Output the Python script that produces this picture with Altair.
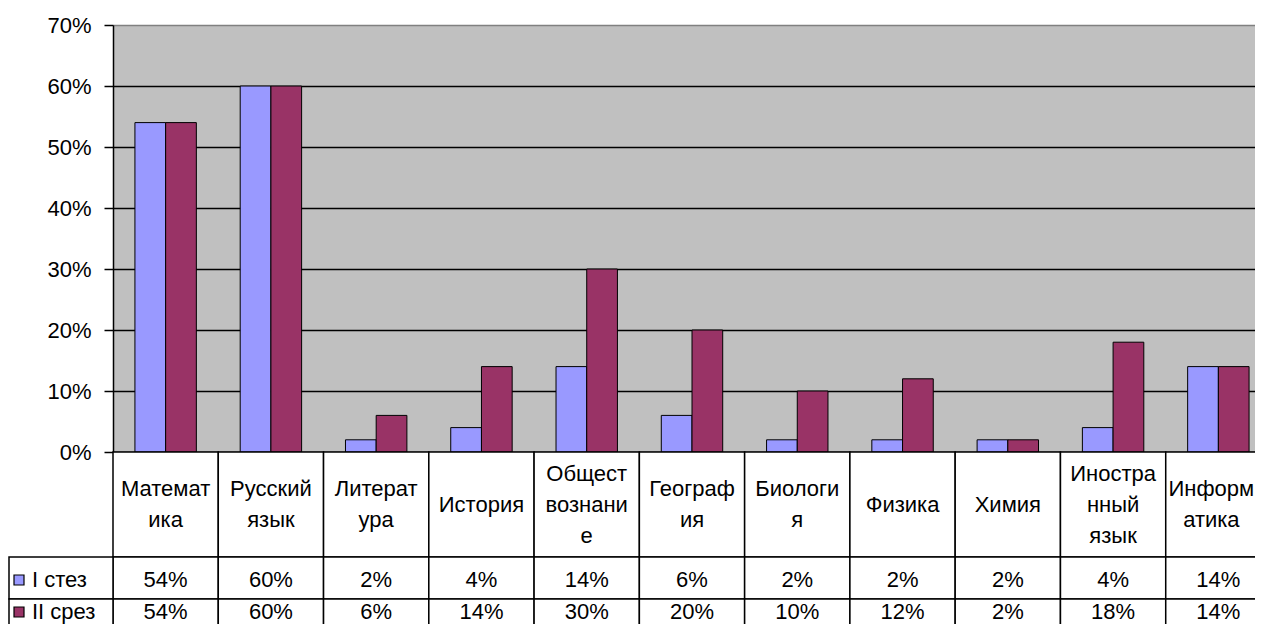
import altair as alt
import pandas as pd

categories = ["Математика", "Русский язык", "Литература", "История", "Обществознание",
              "География", "Биология", "Физика", "Химия", "Иностранный язык", "Информатика"]
labels = ["Математ\nика", "Русский\nязык", "Литерат\nура", "История", "Общест\nвознани\nе",
          "Географ\nия", "Биологи\nя", "Физика", "Химия", "Иностра\nнный\nязык", "Информ\nатика"]
series = ["I стез", "II срез"]
values_1 = [54, 60, 2, 4, 14, 6, 2, 2, 2, 4, 14]
values_2 = [54, 60, 6, 14, 30, 20, 10, 12, 2, 18, 14]
y_ticks = [0, 0.1, 0.2, 0.3, 0.4, 0.5, 0.6, 0.7]
colors = ["#9999FF", "#993366"]

FONT = "Liberation Sans"
FS = 22
LH = 31

rows = []
for s, vals in zip(series, [values_1, values_2]):
    for c, v in zip(categories, vals):
        rows.append({"category": c, "series": s, "value": v / 100})
long_df = pd.DataFrame(rows)
cat_df = pd.DataFrame({"category": categories, "label": labels})
cat_df["nlines"] = cat_df["label"].str.count("\n") + 1
cat_df["edge"] = cat_df["category"] == categories[-1]

x_scale = alt.Scale(domain=categories, paddingInner=0, paddingOuter=0)
x_enc = alt.X("category:N", sort=categories, scale=x_scale, axis=None)

bars = alt.Chart(long_df).mark_bar(stroke="black", strokeWidth=1).encode(
    x=x_enc,
    xOffset=alt.XOffset("series:N", sort=series,
                        scale=alt.Scale(paddingInner=0, paddingOuter=0.714)),
    y=alt.Y("value:Q", scale=alt.Scale(domain=[0, 0.7], nice=False),
            axis=alt.Axis(values=y_ticks, format=".0%", title=None,
                          labelFont=FONT, labelFontSize=FS, labelColor="black",
                          labelPadding=13, tickSize=9, tickColor="black", tickWidth=1.5,
                          domainColor="black", domainWidth=1.5,
                          grid=True, gridWidth=1.6,
                          gridColor={"condition": {"test": "datum.value > 0.65", "value": "#808080"},
                                     "value": "black"})),
    color=alt.Color("series:N", sort=series,
                    scale=alt.Scale(domain=series, range=colors), legend=None),
)

# table geometry (pixels within plot coordinates)
H = 427
r0, r1, r2, r3 = H, 532, 574, 620
row_text_y = [555, 587]

cat_cells = alt.Chart(cat_df).mark_rect(fill="white", stroke="black", strokeWidth=1.5).encode(
    x=x_enc, y=alt.value(r0), y2=alt.value(r1))

layers = [bars, cat_cells]
for n in sorted(cat_df["nlines"].unique()):
    for edge in [False, True]:
        sub = cat_df[(cat_df["nlines"] == n) & (cat_df["edge"] == edge)]
        if len(sub) == 0:
            continue
        layers.append(alt.Chart(sub).mark_text(font=FONT, fontSize=FS, color="black",
                                               lineBreak="\n", lineHeight=LH,
                                               baseline="middle", align="center",
                                               dx=-7 if edge else 0).encode(
            x=x_enc, y=alt.value((r0 + r1) / 2 - (n - 1) * LH / 2), text="label:N"))

row_bounds = [(r1, r2), (r2, r3)]
for i, s in enumerate(series):
    top, bot = row_bounds[i]
    ty = row_text_y[i]
    sub = long_df[long_df["series"] == s]
    sdf = pd.DataFrame({"series": [s]})
    layers.append(alt.Chart(sub).mark_rect(fill="white", stroke="black", strokeWidth=1.5).encode(
        x=x_enc, y=alt.value(top), y2=alt.value(bot)))
    layers.append(alt.Chart(sub).mark_text(font=FONT, fontSize=FS, color="black",
                                           baseline="middle", align="center").encode(
        x=x_enc, y=alt.value(ty), text=alt.Text("value:Q", format=".0%")))
    layers.append(alt.Chart(sdf).mark_rect(fill="white", stroke="black", strokeWidth=1.5).encode(
        x=alt.value(-104), x2=alt.value(0), y=alt.value(top), y2=alt.value(bot)))
    layers.append(alt.Chart(sdf).mark_rect(fill=colors[i], stroke="black", strokeWidth=1.2).encode(
        x=alt.value(-99), x2=alt.value(-89),
        y=alt.value(ty - 5), y2=alt.value(ty + 5)))
    layers.append(alt.Chart(sdf).mark_text(font=FONT, fontSize=FS, color="black",
                                           baseline="middle", align="left").encode(
        x=alt.value(-81), y=alt.value(ty), text="series:N"))

chart = alt.layer(*layers).properties(
    width=1158, height=H,
    autosize=alt.AutoSizeParams(type="none"),
    padding={"left": 105, "top": 17, "right": -16, "bottom": 172},
).configure(background="white").configure_view(fill="#C0C0C0", stroke=None)

chart.save("out.html", embed_options={"renderer": "svg", "actions": False})
